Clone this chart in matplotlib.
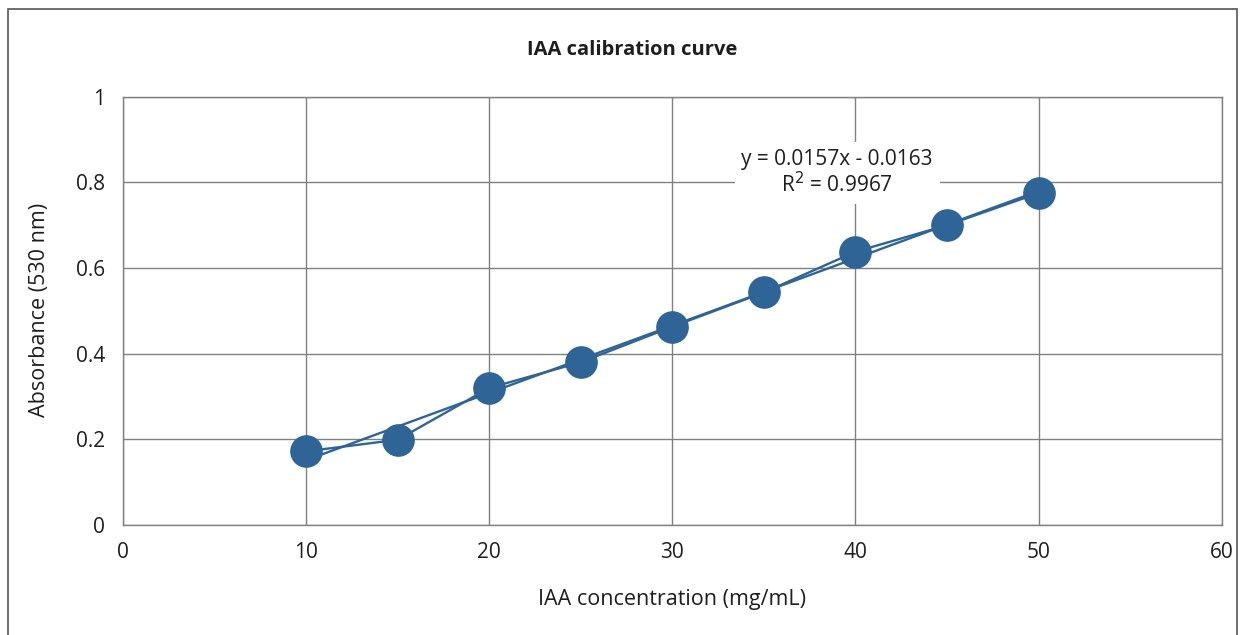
import numpy as np
import matplotlib.pyplot as plt
from matplotlib.patches import Rectangle

# IAA calibration data
conc = [10, 15, 20, 25, 30, 35, 40, 45, 50]
absorb = [0.172, 0.199, 0.320, 0.380, 0.463, 0.543, 0.638, 0.700, 0.775]
xticks = [0, 10, 20, 30, 40, 50, 60]
yticks = [0, 0.2, 0.4, 0.6, 0.8, 1]
ytick_labels = ['0', '0.2', '0.4', '0.6', '0.8', '1']

blue = '#2e6496'
grid_col = '#808080'
txt_col = '#1e1e1e'

plt.rcParams['font.family'] = ['Open Sans', 'DejaVu Sans']

fig = plt.figure(figsize=(12.46, 6.35), dpi=100)
ax = fig.add_axes([123 / 1246, 110 / 635, (1221.7 - 123) / 1246, (525 - 96.7) / 635])

# outer frame
fig.patches.append(Rectangle((8 / 1246, -0.05), (1237 - 8) / 1246, 1.05 - 9 / 635,
                             transform=fig.transFigure, fill=False,
                             edgecolor='#555555', linewidth=1.2))

# trendline from least squares
k, b = np.polyfit(conc, absorb, 1)
xs = np.array([conc[0], conc[-1]])
ax.plot(xs, k * xs + b, color=blue, linewidth=1.7, zorder=3)
ax.plot(conc, absorb, color=blue, linewidth=1.7, marker='o', markersize=22.5, zorder=4)

ax.set_xlim(0, 60)
ax.set_ylim(0, 1)
ax.set_xticks(xticks)
ax.set_yticks(yticks)
ax.set_yticklabels(ytick_labels)
ax.tick_params(length=0, labelsize=15, colors=txt_col)
ax.tick_params(axis='x', pad=12)
ax.tick_params(axis='y', pad=13)
ax.grid(True, color=grid_col, linewidth=1.0)
ax.set_axisbelow(True)
for s in ax.spines.values():
    s.set_color(grid_col)
    s.set_linewidth(1.0)

ax.text(39.0, 0.822, 'y = 0.0157x - 0.0163\nR$^2$ = 0.9967', ha='center', va='center',
        fontsize=15, color=txt_col, linespacing=1.1, zorder=5,
        bbox=dict(facecolor='white', edgecolor='none', pad=5))

fig.text(632 / 1246, 1 - 50 / 635, 'IAA calibration curve', ha='center', va='center',
         fontsize=14.5, fontweight='bold', color=txt_col)
fig.text(672 / 1246, 1 - 600 / 635, 'IAA concentration (mg/mL)', ha='center', va='center',
         fontsize=15.5, color=txt_col)
fig.text(40 / 1246, 1 - 310 / 635, 'Absorbance (530 nm)', ha='center', va='center',
         fontsize=15.5, color=txt_col, rotation=90)

fig.savefig('out.png', dpi=100)
